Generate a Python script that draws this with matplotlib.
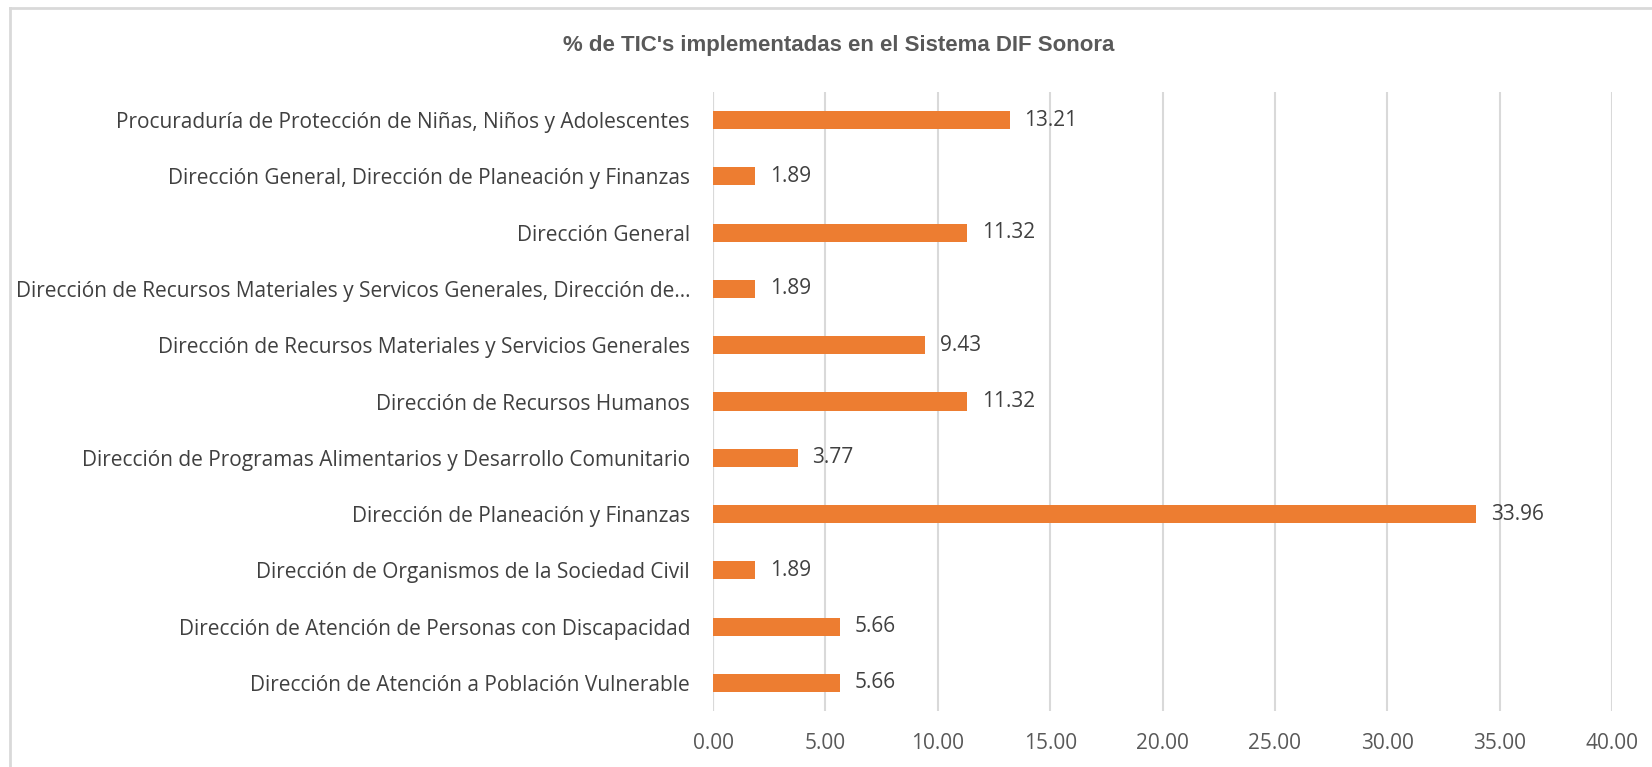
import numpy as np
import matplotlib.pyplot as plt
from matplotlib import font_manager
from matplotlib.lines import Line2D

categorias = [
    "Dirección de Atención a Población Vulnerable",
    "Dirección de Atención de Personas con Discapacidad",
    "Dirección de Organismos de la Sociedad Civil",
    "Dirección de Planeación y Finanzas",
    "Dirección de Programas Alimentarios y Desarrollo Comunitario",
    "Dirección de Recursos Humanos",
    "Dirección de Recursos Materiales y Servicios Generales",
    "Dirección de Recursos Materiales y Servicos Generales, Dirección de…",
    "Dirección General",
    "Dirección General, Dirección de Planeación y Finanzas",
    "Procuraduría de Protección de Niñas, Niños y Adolescentes",
]
porcentajes = [5.66, 5.66, 1.89, 33.96, 3.77, 11.32, 9.43, 1.89, 11.32, 1.89, 13.21]
ticks_x = [0, 5, 10, 15, 20, 25, 30, 35, 40]

fuente = ['Open Sans', 'DejaVu Sans']
naranja = '#ED7D31'
gris = '#D9D9D9'

# fuente angosta para el titulo, si existe
nombres = {f.name for f in font_manager.fontManager.ttflist}
titulo_kw = dict(fontsize=19, fontweight='bold')
if 'Liberation Sans Narrow' in nombres:
    titulo_kw['family'] = ['Liberation Sans Narrow', 'DejaVu Sans']
elif 'DejaVu Sans Condensed' in nombres:
    titulo_kw['family'] = ['DejaVu Sans Condensed', 'DejaVu Sans']
    titulo_kw['fontsize'] = 16
else:
    titulo_kw['family'] = ['Liberation Sans', 'DejaVu Sans']
    titulo_kw['fontsize'] = 16

fig = plt.figure(figsize=(16.52, 7.67), dpi=100)
# borde del area del grafico (solo arriba e izquierda visibles)
fig.lines.append(Line2D([10 / 1652, 1], [1 - 8 / 767] * 2, transform=fig.transFigure,
                        color=gris, linewidth=2))
fig.lines.append(Line2D([10 / 1652] * 2, [0, 1 - 8 / 767], transform=fig.transFigure,
                        color=gris, linewidth=2))

ax = fig.add_axes([713 / 1652, 56 / 767, 899 / 1652, 619 / 767])

y = np.arange(len(categorias))
ax.barh(y, porcentajes, height=0.32, color=naranja, zorder=3)
for yi, v in zip(y, porcentajes):
    ax.text(v + 0.65, yi, f"{v:.2f}", va='center', ha='left', fontsize=15,
            color='#404040', family=fuente)

ax.set_xlim(0, 40)
ax.set_ylim(-0.5, len(categorias) - 0.5)
ax.set_yticks(y)
ax.set_yticklabels(categorias, fontsize=15, color='#404040', family=fuente)
ax.set_xticks(ticks_x)
ax.set_xticklabels([f"{t:.2f}" for t in ticks_x], fontsize=15, color='#595959', family=fuente)
ax.tick_params(axis='x', length=0, pad=16)
ax.tick_params(axis='y', length=0, pad=16.5)
ax.grid(axis='x', color=gris, linewidth=1.5, zorder=0)
for s in ax.spines.values():
    s.set_visible(False)
ax.axvline(0, color=gris, linewidth=1.5, zorder=1)

fig.text(839 / 1652, 1 - 46 / 767, "% de TIC's implementadas en el Sistema DIF Sonora",
         ha='center', va='center', color='#595959', **titulo_kw)

fig.savefig('out.png', dpi=100, facecolor='white')
